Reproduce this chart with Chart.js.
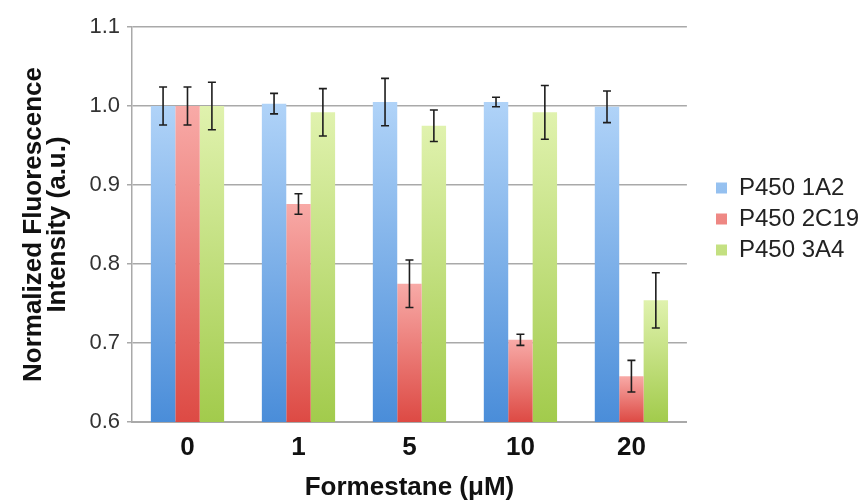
<!DOCTYPE html>
<html>
<head>
<meta charset="utf-8">
<script src="https://cdn.jsdelivr.net/npm/chart.js@4.4.1/dist/chart.umd.min.js"></script>
<style>
  html, body { margin: 0; padding: 0; background: #fff; }
  #wrap { width: 864px; height: 504px; }
</style>
</head>
<body>
<div id="wrap"><canvas id="fluoChart" width="864" height="504"></canvas></div>
<script>
// concentrations of formestane (uM)
const doses = ['0', '1', '5', '10', '20'];
const seriesNames = ['P450 1A2', 'P450 2C19', 'P450 3A4'];

// normalized intensities
const cyp1A2 = [1.000, 1.003, 1.005, 1.005, 0.999];
const cyp2C19 = [1.000, 0.876, 0.775, 0.704, 0.658];
const cyp3A4 = [1.000, 0.992, 0.975, 0.992, 0.754];

// error bar half-widths
const err1A2 = [0.024, 0.013, 0.030, 0.006, 0.020];
const err2C19 = [0.024, 0.013, 0.030, 0.007, 0.020];
const err3A4 = [0.030, 0.030, 0.020, 0.034, 0.035];

const yTicks = [0.6, 0.7, 0.8, 0.9, 1.0, 1.1];

const fontFamily = '"Liberation Sans", Arial, sans-serif';

// top (light) and bottom (dark) colours of each bar gradient
const palette = [
    { top: '#b0d3f8', bottom: '#4a8dd9', solid: '#68a5e8' },
    { top: '#f8aaa7', bottom: '#dd4a44', solid: '#ec6c67' },
    { top: '#e0f2ae', bottom: '#a2cb4c', solid: '#c0df7c' }
];

function barFill(i) {
    return function(context) {
        const chart = context.chart;
        const area = chart.chartArea;
        if (context.type !== 'data' || !area) return palette[i].solid;
        const yTop = chart.scales.y.getPixelForValue(context.raw);
        const g = chart.ctx.createLinearGradient(0, yTop, 0, area.bottom);
        g.addColorStop(0, palette[i].top);
        g.addColorStop(1, palette[i].bottom);
        return g;
    };
}

const errors = [err1A2, err2C19, err3A4];

// draws the error bars on top of the bars
const errorBarPlugin = {
    id: 'errorBars',
    afterDatasetsDraw(chart) {
        const ctx = chart.ctx;
        const y = chart.scales.y;
        ctx.save();
        ctx.strokeStyle = '#1e1e1e';
        ctx.lineWidth = 1.6;
        chart.data.datasets.forEach((ds, di) => {
            const meta = chart.getDatasetMeta(di);
            meta.data.forEach((bar, i) => {
                const v = ds.data[i];
                const e = errors[di][i];
                const yHi = y.getPixelForValue(v + e);
                const yLo = y.getPixelForValue(v - e);
                const x = bar.x;
                ctx.beginPath();
                ctx.moveTo(x, yHi);
                ctx.lineTo(x, yLo);
                ctx.moveTo(x - 4, yHi);
                ctx.lineTo(x + 4, yHi);
                ctx.moveTo(x - 4, yLo);
                ctx.lineTo(x + 4, yLo);
                ctx.stroke();
            });
        });
        ctx.restore();
    }
};

// the legend sits a little off the plot, level with the upper bars
const legendPlacer = {
    id: 'legendPlacer',
    afterLayout(chart) {
        const lg = chart.legend;
        lg.left = 709;
        lg.right = 864;
        lg.top = 169;
        lg.bottom = 504;
    }
};

const chartCtx = document.getElementById('fluoChart').getContext('2d');
const fluoChart = new Chart(chartCtx, {
    type: 'bar',
    data: {
        labels: doses,
        datasets: [
            { label: seriesNames[0], data: cyp1A2, backgroundColor: barFill(0) },
            { label: seriesNames[1], data: cyp2C19, backgroundColor: barFill(1) },
            { label: seriesNames[2], data: cyp3A4, backgroundColor: barFill(2) }
        ]
    },
    options: {
        responsive: false,
        animation: false,
        devicePixelRatio: 1,
        layout: { padding: { top: 27, right: 17, bottom: 0, left: 0 } },
        datasets: {
            bar: { categoryPercentage: 0.66, barPercentage: 1.0, borderWidth: 0 }
        },
        plugins: {
            tooltip: { enabled: false },
            legend: {
                position: 'right',
                align: 'start',
                labels: {
                    boxWidth: 11,
                    boxHeight: 11,
                    padding: 7,
                    color: '#222',
                    font: { family: fontFamily, size: 24 }
                }
            }
        },
        scales: {
            x: {
                afterFit: scale => { scale.height = 82; },
                grid: { display: false, drawTicks: false },
                border: { display: true, color: '#a9a9a9', width: 2 },
                ticks: {
                    color: '#111',
                    padding: 10,
                    font: { family: fontFamily, size: 26, weight: 'bold' }
                },
                title: {
                    display: true,
                    text: 'Formestane (\u03bcM)',
                    color: '#111',
                    padding: { top: 0, bottom: 1 },
                    font: { family: fontFamily, size: 26, weight: 'bold' }
                }
            },
            y: {
                min: 0.6,
                max: 1.1,
                afterFit: scale => { scale.width = 132; },
                afterBuildTicks: scale => { scale.ticks = yTicks.map(v => ({ value: v })); },
                grid: { color: '#a9a9a9', lineWidth: 1.5, tickLength: 5 },
                border: { display: true, color: '#a9a9a9', width: 1.5 },
                ticks: {
                    color: '#333',
                    padding: 7,
                    font: { family: fontFamily, size: 22 },
                    callback: v => Number(v).toFixed(1)
                },
                title: {
                    display: true,
                    text: ['Normalized Fluorescence', 'Intensity (a.u.)'],
                    color: '#111',
                    padding: { top: 21, bottom: 0 },
                    font: { family: fontFamily, size: 26, weight: 'bold', lineHeight: 0.95 }
                }
            }
        }
    },
    plugins: [errorBarPlugin, legendPlacer]
});
</script>
</body>
</html>
